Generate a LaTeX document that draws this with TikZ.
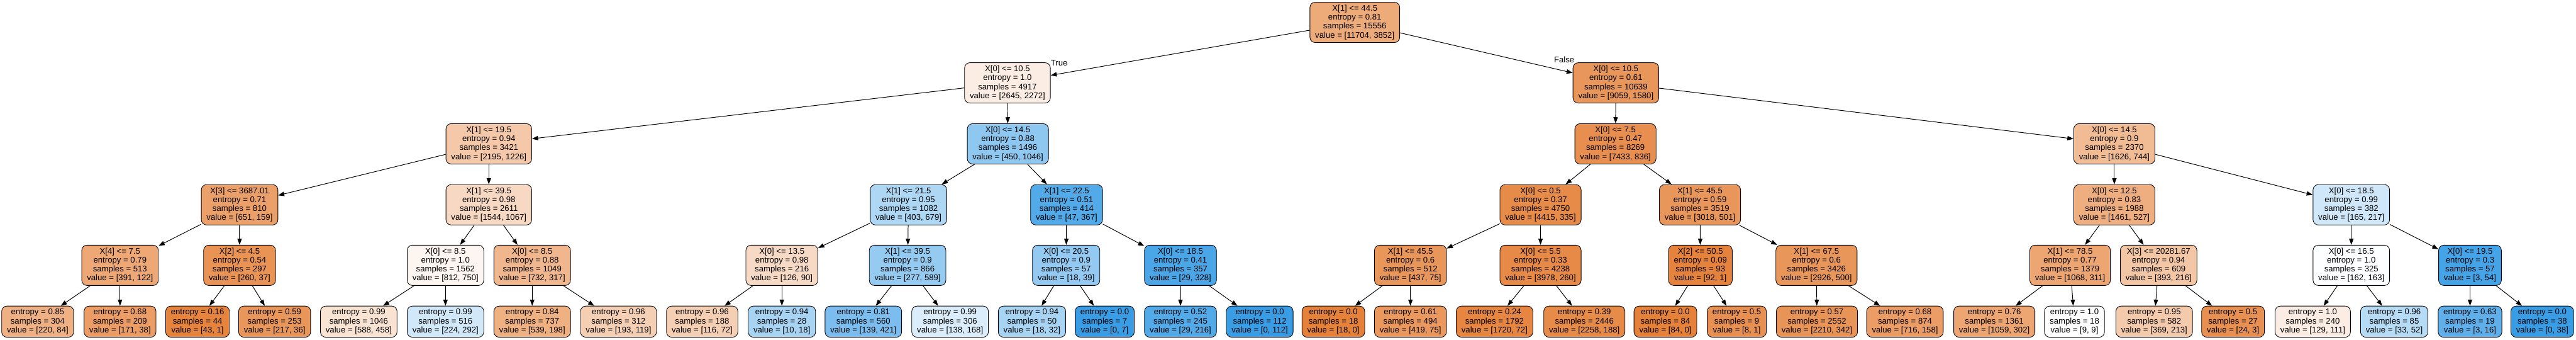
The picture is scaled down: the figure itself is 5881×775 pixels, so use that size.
\documentclass[tikz,border=0pt]{standalone}
\usepackage{fontspec}
\setmainfont{Liberation Sans}
\usetikzlibrary{arrows.meta}
\definecolor{cO}{RGB}{229,129,57}
\definecolor{cB}{RGB}{57,157,229}
\begin{document}
\begin{tikzpicture}[x=0.5pt,y=-0.5pt,
 tbox/.style={draw=black, line width=0.6pt, rounded corners=6pt, align=center, inner xsep=6pt, inner ysep=0pt, font=\fontsize{9.45}{10.15}\selectfont},
 dn/.style={tbox, minimum height=46pt},
 lf/.style={tbox, minimum height=35.5pt},
 ofill/.style={fill=cO!#1!white},
 bfill/.style={fill=cB!#1!white},
 conn/.style={draw=black, line width=0.7pt, -{Triangle[length=7pt,width=5pt]}},
 lbl/.style={font=\fontsize{9.45}{10.15}\selectfont, inner sep=0pt}]
\useasboundingbox (0,0) rectangle (5881,775);
% level 0
\node[dn,ofill=67] (R) at (3093,51) {X[1] <= 44.5\\entropy = 0.81\\samples = 15556\\value = [11704, 3852]};
% level 1
\node[dn,ofill=14] (A) at (2300,189) {X[0] <= 10.5\\entropy = 1.0\\samples = 4917\\value = [2645, 2272]};
\node[dn,ofill=83] (B) at (3689,189) {X[0] <= 10.5\\entropy = 0.61\\samples = 10639\\value = [9059, 1580]};
% level 2
\node[dn,ofill=44] (AA) at (1116,328) {X[1] <= 19.5\\entropy = 0.94\\samples = 3421\\value = [2195, 1226]};
\node[dn,bfill=57] (AB) at (2301,328) {X[0] <= 14.5\\entropy = 0.88\\samples = 1496\\value = [450, 1046]};
\node[dn,ofill=89] (BA) at (3688,328) {X[0] <= 7.5\\entropy = 0.47\\samples = 8269\\value = [7433, 836]};
\node[dn,ofill=54] (BB) at (4827,328) {X[0] <= 14.5\\entropy = 0.9\\samples = 2370\\value = [1626, 744]};
% level 3
\node[dn,ofill=76] (AAA) at (547,467) {X[3] <= 3687.01\\entropy = 0.71\\samples = 810\\value = [651, 159]};
\node[dn,ofill=31] (AAB) at (1116,467) {X[1] <= 39.5\\entropy = 0.98\\samples = 2611\\value = [1544, 1067]};
\node[dn,bfill=41] (ABA) at (2074,467) {X[1] <= 21.5\\entropy = 0.95\\samples = 1082\\value = [403, 679]};
\node[dn,bfill=87] (ABB) at (2435,467) {X[1] <= 22.5\\entropy = 0.51\\samples = 414\\value = [47, 367]};
\node[dn,ofill=92] (BAA) at (3517,467) {X[0] <= 0.5\\entropy = 0.37\\samples = 4750\\value = [4415, 335]};
\node[dn,ofill=83] (BAB) at (3881,467) {X[1] <= 45.5\\entropy = 0.59\\samples = 3519\\value = [3018, 501]};
\node[dn,ofill=64] (BBA) at (4827,467) {X[0] <= 12.5\\entropy = 0.83\\samples = 1988\\value = [1461, 527]};
\node[dn,bfill=24] (BBB) at (5368,467) {X[0] <= 18.5\\entropy = 0.99\\samples = 382\\value = [165, 217]};
% level 4
\node[dn,ofill=69] (AAAA) at (274,605) {X[4] <= 7.5\\entropy = 0.79\\samples = 513\\value = [391, 122]};
\node[dn,ofill=86] (AAAB) at (547,605) {X[2] <= 4.5\\entropy = 0.54\\samples = 297\\value = [260, 37]};
\node[dn,ofill=8] (AABA) at (1017,605) {X[0] <= 8.5\\entropy = 1.0\\samples = 1562\\value = [812, 750]};
\node[dn,ofill=57] (AABB) at (1215,605) {X[0] <= 8.5\\entropy = 0.88\\samples = 1049\\value = [732, 317]};
\node[dn,ofill=29] (ABAA) at (1785,605) {X[0] <= 13.5\\entropy = 0.98\\samples = 216\\value = [126, 90]};
\node[dn,bfill=53] (ABAB) at (2072,605) {X[1] <= 39.5\\entropy = 0.9\\samples = 866\\value = [277, 589]};
\node[dn,bfill=54] (ABBA) at (2434,605) {X[0] <= 20.5\\entropy = 0.9\\samples = 57\\value = [18, 39]};
\node[dn,bfill=91] (ABBB) at (2695,605) {X[0] <= 18.5\\entropy = 0.41\\samples = 357\\value = [29, 328]};
\node[dn,ofill=83] (BAAA) at (3220,605) {X[1] <= 45.5\\entropy = 0.6\\samples = 512\\value = [437, 75]};
\node[dn,ofill=93] (BAAB) at (3517,605) {X[0] <= 5.5\\entropy = 0.33\\samples = 4238\\value = [3978, 260]};
\node[dn,ofill=99] (BABA) at (3882,605) {X[2] <= 50.5\\entropy = 0.09\\samples = 93\\value = [92, 1]};
\node[dn,ofill=83] (BABB) at (4147,605) {X[1] <= 67.5\\entropy = 0.6\\samples = 3426\\value = [2926, 500]};
\node[dn,ofill=71] (BBAA) at (4726,605) {X[1] <= 78.5\\entropy = 0.77\\samples = 1379\\value = [1068, 311]};
\node[dn,ofill=45] (BBAB) at (4928,605) {X[3] <= 20281.67\\entropy = 0.94\\samples = 609\\value = [393, 216]};
\node[dn,bfill=1] (BBBA) at (5368,605) {X[0] <= 16.5\\entropy = 1.0\\samples = 325\\value = [162, 163]};
\node[dn,bfill=94] (BBBB) at (5639,605) {X[0] <= 19.5\\entropy = 0.3\\samples = 57\\value = [3, 54]};
% level 5 (leaves)
\node[lf,ofill=62] (AAAAA) at (86,733.5) {entropy = 0.85\\samples = 304\\value = [220, 84]};
\node[lf,ofill=78] (AAAAB) at (274,733.5) {entropy = 0.68\\samples = 209\\value = [171, 38]};
\node[lf,ofill=98] (AAABA) at (451,733.5) {entropy = 0.16\\samples = 44\\value = [43, 1]};
\node[lf,ofill=83] (AAABB) at (627,733.5) {entropy = 0.59\\samples = 253\\value = [217, 36]};
\node[lf,ofill=22] (AABAA) at (819,733.5) {entropy = 0.99\\samples = 1046\\value = [588, 458]};
\node[lf,bfill=23] (AABAB) at (1017,733.5) {entropy = 0.99\\samples = 516\\value = [224, 292]};
\node[lf,ofill=63] (AABBA) at (1215,733.5) {entropy = 0.84\\samples = 737\\value = [539, 198]};
\node[lf,ofill=38] (AABBB) at (1412,733.5) {entropy = 0.96\\samples = 312\\value = [193, 119]};
\node[lf,ofill=38] (ABAAA) at (1603,733.5) {entropy = 0.96\\samples = 188\\value = [116, 72]};
\node[lf,bfill=44] (ABAAB) at (1785,733.5) {entropy = 0.94\\samples = 28\\value = [10, 18]};
\node[lf,bfill=67] (ABABA) at (1971,733.5) {entropy = 0.81\\samples = 560\\value = [139, 421]};
\node[lf,bfill=18] (ABABB) at (2169,733.5) {entropy = 0.99\\samples = 306\\value = [138, 168]};
\node[lf,bfill=44] (ABBAA) at (2356,733.5) {entropy = 0.94\\samples = 50\\value = [18, 32]};
\node[lf,bfill=100] (ABBAB) at (2522,733.5) {entropy = 0.0\\samples = 7\\value = [0, 7]};
\node[lf,bfill=87] (ABBBA) at (2695,733.5) {entropy = 0.52\\samples = 245\\value = [29, 216]};
\node[lf,bfill=100] (ABBBB) at (2876,733.5) {entropy = 0.0\\samples = 112\\value = [0, 112]};
\node[lf,ofill=100] (BAAAA) at (3044,733.5) {entropy = 0.0\\samples = 18\\value = [18, 0]};
\node[lf,ofill=82] (BAAAB) at (3220,733.5) {entropy = 0.61\\samples = 494\\value = [419, 75]};
\node[lf,ofill=96] (BAABA) at (3412,733.5) {entropy = 0.24\\samples = 1792\\value = [1720, 72]};
\node[lf,ofill=92] (BAABB) at (3617,733.5) {entropy = 0.39\\samples = 2446\\value = [2258, 188]};
\node[lf,ofill=100] (BABAA) at (3802,733.5) {entropy = 0.0\\samples = 84\\value = [84, 0]};
\node[lf,ofill=88] (BABAB) at (3965,733.5) {entropy = 0.5\\samples = 9\\value = [8, 1]};
\node[lf,ofill=85] (BABBA) at (4148,733.5) {entropy = 0.57\\samples = 2552\\value = [2210, 342]};
\node[lf,ofill=78] (BABBB) at (4349,733.5) {entropy = 0.68\\samples = 874\\value = [716, 158]};
\node[lf,ofill=71] (BBAAA) at (4553,733.5) {entropy = 0.76\\samples = 1361\\value = [1059, 302]};
\node[lf,ofill=0] (BBAAB) at (4736,733.5) {entropy = 1.0\\samples = 18\\value = [9, 9]};
\node[lf,ofill=42] (BBABA) at (4918,733.5) {entropy = 0.95\\samples = 582\\value = [369, 213]};
\node[lf,ofill=88] (BBABB) at (5098,733.5) {entropy = 0.5\\samples = 27\\value = [24, 3]};
\node[lf,ofill=14] (BBBAA) at (5280,733.5) {entropy = 1.0\\samples = 240\\value = [129, 111]};
\node[lf,bfill=37] (BBBAB) at (5466,733.5) {entropy = 0.96\\samples = 85\\value = [33, 52]};
\node[lf,bfill=81] (BBBBA) at (5639,733.5) {entropy = 0.63\\samples = 19\\value = [3, 16]};
\node[lf,bfill=100] (BBBBB) at (5804,733.5) {entropy = 0.0\\samples = 38\\value = [0, 38]};
% edge labels
\node[lbl] (tT) at (2418,143) {True};
\node[lbl] (tF) at (3571,136) {False};
% edges
\foreach \p/\c in {R/A,R/B,A/AA,A/AB,B/BA,B/BB,
  AA/AAA,AA/AAB,AB/ABA,AB/ABB,BA/BAA,BA/BAB,BB/BBA,BB/BBB,
  AAA/AAAA,AAA/AAAB,AAB/AABA,AAB/AABB,ABA/ABAA,ABA/ABAB,ABB/ABBA,ABB/ABBB,
  BAA/BAAA,BAA/BAAB,BAB/BABA,BAB/BABB,BBA/BBAA,BBA/BBAB,BBB/BBBA,BBB/BBBB,
  AAAA/AAAAA,AAAA/AAAAB,AAAB/AAABA,AAAB/AAABB,AABA/AABAA,AABA/AABAB,AABB/AABBA,AABB/AABBB,
  ABAA/ABAAA,ABAA/ABAAB,ABAB/ABABA,ABAB/ABABB,ABBA/ABBAA,ABBA/ABBAB,ABBB/ABBBA,ABBB/ABBBB,
  BAAA/BAAAA,BAAA/BAAAB,BAAB/BAABA,BAAB/BAABB,BABA/BABAA,BABA/BABAB,BABB/BABBA,BABB/BABBB,
  BBAA/BBAAA,BBAA/BBAAB,BBAB/BBABA,BBAB/BBABB,BBBA/BBBAA,BBBA/BBBAB,BBBB/BBBBA,BBBB/BBBBB}
  \draw[conn] (\p) -- (\c);
\end{tikzpicture}
\end{document}
